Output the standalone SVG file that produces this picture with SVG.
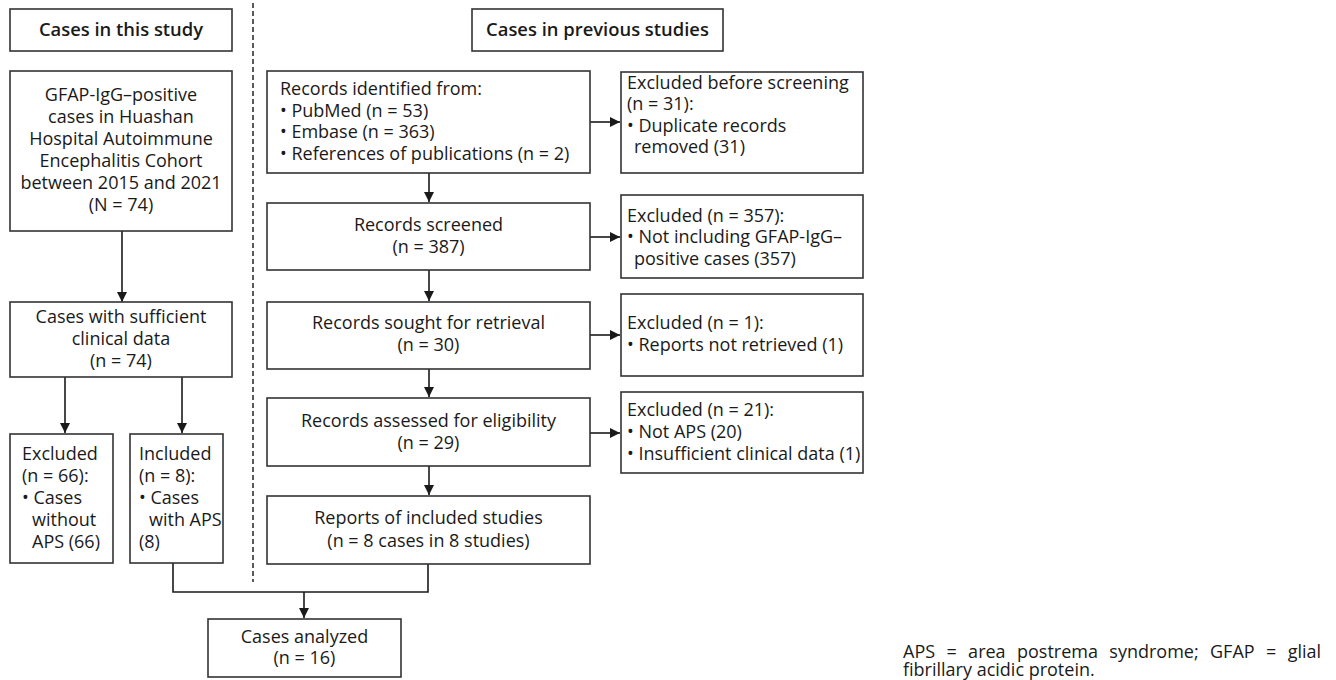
<svg xmlns="http://www.w3.org/2000/svg" width="1336" height="680" viewBox="0 0 1336 680">
<defs>
<marker id="arr" markerWidth="12" markerHeight="12" refX="10" refY="5" orient="auto" markerUnits="userSpaceOnUse">
<path d="M0,0 L10,5 L0,10 Z" fill="#1a1a1a"/>
</marker>
<style>
.box{fill:#fff;stroke:#333;stroke-width:1.6}
.t{font-family:"Open Sans","Noto Sans","Liberation Sans",sans-serif;font-size:18px;fill:#1a1a1a}
.c{text-anchor:middle}
.h{font-weight:600;font-size:18.4px}
.ln{fill:none;stroke:#1a1a1a;stroke-width:1.6}
.dash{fill:none;stroke:#333;stroke-width:1.6;stroke-dasharray:5 3}
</style>
</defs>
<rect width="1336" height="680" fill="#fff"/>

<g id="connectors">
<line class="dash" x1="253" y1="3" x2="253" y2="582"/>
<line class="ln" x1="122" y1="231" x2="122" y2="302" marker-end="url(#arr)"/>
<line class="ln" x1="65" y1="377" x2="65" y2="433" marker-end="url(#arr)"/>
<line class="ln" x1="182" y1="377" x2="182" y2="433" marker-end="url(#arr)"/>
<polyline class="ln" points="173,563 173,592 428,592 428,564"/>
<line class="ln" x1="304" y1="592" x2="304" y2="618" marker-end="url(#arr)"/>
<line class="ln" x1="429" y1="173" x2="429" y2="202" marker-end="url(#arr)"/>
<line class="ln" x1="429" y1="270" x2="429" y2="301" marker-end="url(#arr)"/>
<line class="ln" x1="429" y1="369" x2="429" y2="397" marker-end="url(#arr)"/>
<line class="ln" x1="429" y1="466" x2="429" y2="495" marker-end="url(#arr)"/>
<line class="ln" x1="590" y1="122" x2="620" y2="122" marker-end="url(#arr)"/>
<line class="ln" x1="590" y1="237" x2="620" y2="237" marker-end="url(#arr)"/>
<line class="ln" x1="590" y1="335" x2="620" y2="335" marker-end="url(#arr)"/>
<line class="ln" x1="590" y1="433" x2="620" y2="433" marker-end="url(#arr)"/>
</g>

<g id="hdr-this">
<rect class="box" x="10" y="9" width="222" height="42"/>
<text class="t c h" x="121" y="36">Cases in this study</text>
</g>

<g id="gfap-cases">
<rect class="box" x="10" y="71" width="222" height="160"/>
<text class="t c" x="121" y="101">GFAP-IgG–positive</text>
<text class="t c" x="121" y="123">cases in Huashan</text>
<text class="t c" x="121" y="145">Hospital Autoimmune</text>
<text class="t c" x="121" y="167">Encephalitis Cohort</text>
<text class="t c" x="121" y="189">between 2015 and 2021</text>
<text class="t c" x="121" y="211">(N = 74)</text>
</g>

<g id="sufficient">
<rect class="box" x="10" y="302" width="222" height="75"/>
<text class="t c" x="121" y="323">Cases with sufficient</text>
<text class="t c" x="121" y="345">clinical data</text>
<text class="t c" x="121" y="367">(n = 74)</text>
</g>

<g id="excluded-left">
<rect class="box" x="10" y="434" width="103" height="129"/>
<text class="t" x="22" y="460">Excluded</text>
<text class="t" x="22" y="482">(n = 66):</text>
<text class="t" x="22" y="504">• Cases</text>
<text class="t" x="32" y="526">without</text>
<text class="t" x="32" y="548">APS (66)</text>
</g>

<g id="included-left">
<rect class="box" x="130" y="434" width="93" height="129"/>
<text class="t" x="139" y="460">Included</text>
<text class="t" x="139" y="482">(n = 8):</text>
<text class="t" x="139" y="504">• Cases</text>
<text class="t" x="149" y="526">with APS</text>
<text class="t" x="139" y="548">(8)</text>
</g>

<g id="analyzed">
<rect class="box" x="208" y="619" width="193" height="58"/>
<text class="t c" x="304.5" y="643">Cases analyzed</text>
<text class="t c" x="304.5" y="664">(n = 16)</text>
</g>

<g id="hdr-prev">
<rect class="box" x="472" y="9" width="251" height="42"/>
<text class="t c h" x="597.5" y="36">Cases in previous studies</text>
</g>

<g id="identified">
<rect class="box" x="267" y="71" width="323" height="102"/>
<text class="t" x="280" y="95">Records identified from:</text>
<text class="t" x="280" y="117">• PubMed (n = 53)</text>
<text class="t" x="280" y="138">• Embase (n = 363)</text>
<text class="t" x="280" y="160">• References of publications (n = 2)</text>
</g>

<g id="screened">
<rect class="box" x="267" y="203" width="323" height="67"/>
<text class="t c" x="428.5" y="231">Records screened</text>
<text class="t c" x="428.5" y="253">(n = 387)</text>
</g>

<g id="sought">
<rect class="box" x="267" y="302" width="323" height="67"/>
<text class="t c" x="428.5" y="329">Records sought for retrieval</text>
<text class="t c" x="428.5" y="351">(n = 30)</text>
</g>

<g id="assessed">
<rect class="box" x="267" y="398" width="323" height="68"/>
<text class="t c" x="428.5" y="427">Records assessed for eligibility</text>
<text class="t c" x="428.5" y="449">(n = 29)</text>
</g>

<g id="reports">
<rect class="box" x="267" y="496" width="323" height="68"/>
<text class="t c" x="428.5" y="524">Reports of included studies</text>
<text class="t c" x="428.5" y="547">(n = 8 cases in 8 studies)</text>
</g>

<g id="excl-before">
<rect class="box" x="621" y="72" width="242" height="101"/>
<text class="t" x="627" y="89">Excluded before screening</text>
<text class="t" x="627" y="110">(n = 31):</text>
<text class="t" x="627" y="132">• Duplicate records</text>
<text class="t" x="634" y="153">removed (31)</text>
</g>

<g id="excl-357">
<rect class="box" x="621" y="195" width="242" height="83"/>
<text class="t" x="627" y="222">Excluded (n = 357):</text>
<text class="t" x="627" y="243">• Not including GFAP-IgG–</text>
<text class="t" x="634" y="265">positive cases (357)</text>
</g>

<g id="excl-1">
<rect class="box" x="621" y="294" width="242" height="82"/>
<text class="t" x="627" y="329">Excluded (n = 1):</text>
<text class="t" x="627" y="351">• Reports not retrieved (1)</text>
</g>

<g id="excl-21">
<rect class="box" x="621" y="392" width="242" height="81"/>
<text class="t" x="627" y="416">Excluded (n = 21):</text>
<text class="t" x="627" y="438">• Not APS (20)</text>
<text class="t" x="627" y="460">• Insufficient clinical data (1)</text>
</g>

<g id="footnote">
<text class="t" x="903" y="658" style="word-spacing:6.7px">APS = area postrema syndrome; GFAP = glial</text>
<text class="t" x="903" y="676">fibrillary acidic protein.</text>
</g>
</svg>
